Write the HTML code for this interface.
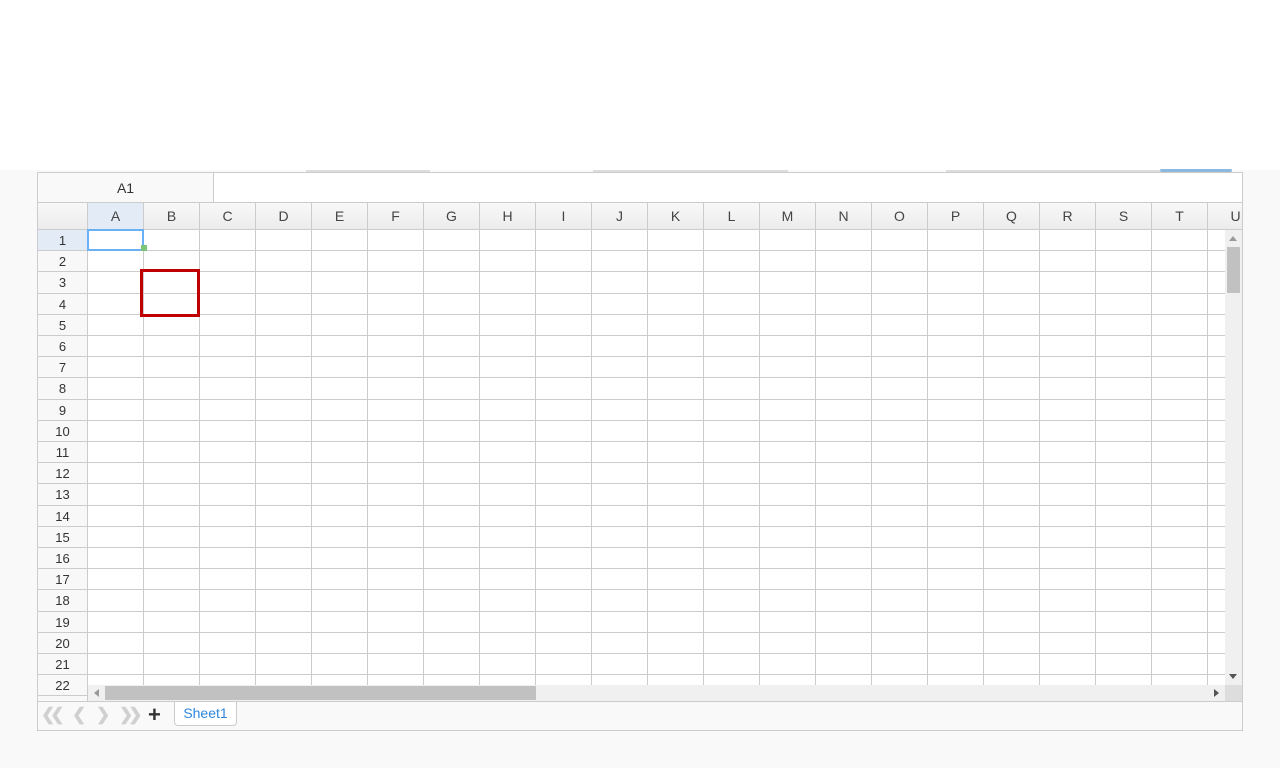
<!DOCTYPE html>
<html><head><meta charset="utf-8"><style>
body{margin:0;width:1280px;height:768px;background:#fff;font-family:"Liberation Sans",Arial,sans-serif;overflow:hidden;position:relative}
.abs{position:absolute;box-sizing:border-box}
.bg{left:0;top:170px;width:1280px;height:598px;background:#f9f9f9}
.wrap{left:37px;top:172px;width:1206px;height:559px;border:1px solid #ccc;background:#fff}
.hl{background:#ddd;height:2px}
.ch{font-size:14px;color:#444;text-align:center;line-height:26px;top:30px;height:27px;border-right:1px solid #ccc;border-bottom:1px solid #ccc;background:linear-gradient(#f8f8f8,#ececec)}
.rh{font-size:13px;color:#333;text-align:center;left:0;width:50px;border-right:1px solid #ccc;border-bottom:1px solid #ccc;background:#f8f8f8}
.vl{width:1px;background:#ccc}
.hline{height:1px;background:#ccc}
</style></head><body>
<div class="abs bg"></div>
<div class="abs hl" style="left:306px;top:170px;width:124px"></div>
<div class="abs hl" style="left:593px;top:170px;width:195px"></div>
<div class="abs hl" style="left:946px;top:170px;width:214px"></div>
<div class="abs" style="left:1160px;top:169px;width:72px;height:3px;background:#8db8e0;border-radius:2px"></div>
<div class="abs wrap" id="wrap">
  <div class="abs" style="left:0;top:0;width:176px;height:30px;border-right:1px solid #ccc;border-bottom:1px solid #ccc;background:#f9f9f9;font-size:14px;color:#333;text-align:center;line-height:30px">A1</div>
  <div class="abs" style="left:176px;top:0;width:1028px;height:30px;border-bottom:1px solid #ccc"></div>
  <div id="grid" class="abs" style="left:0;top:0;width:1204px;height:528px;overflow:hidden"></div>
  <div class="abs" style="left:0;top:30px;width:50px;height:27px;border-right:1px solid #ccc;border-bottom:1px solid #ccc;background:linear-gradient(#f8f8f8,#ececec)"></div>
  <div class="abs" style="left:1187px;top:57px;width:17px;height:455px;background:#f0f0f0">
    <div class="abs" style="left:4px;top:6px;width:0;height:0;border-left:4px solid transparent;border-right:4px solid transparent;border-bottom:5px solid #999"></div>
    <div class="abs" style="left:2px;top:17px;width:13px;height:46px;background:#c1c1c1"></div>
    <div class="abs" style="left:4px;top:444px;width:0;height:0;border-left:4px solid transparent;border-right:4px solid transparent;border-top:5px solid #555"></div>
  </div>
  <div class="abs" style="left:50px;top:512px;width:1137px;height:16px;background:#f0f0f0">
    <div class="abs" style="left:6px;top:4px;width:0;height:0;border-top:4px solid transparent;border-bottom:4px solid transparent;border-right:5px solid #999"></div>
    <div class="abs" style="left:17px;top:1px;width:431px;height:14px;background:#c1c1c1"></div>
    <div class="abs" style="left:1126px;top:4px;width:0;height:0;border-top:4px solid transparent;border-bottom:4px solid transparent;border-left:5px solid #555"></div>
  </div>
  <div class="abs" style="left:1187px;top:512px;width:17px;height:16px;background:#ddd"></div>
  <div class="abs" style="left:0;top:528px;width:1204px;height:29px;background:#f9f9f9;border-top:1px solid #ccc">
    <span class="abs" style="left:3px;top:3px;font-size:17px;color:#d0d0d0;font-weight:bold;letter-spacing:-5px">❮❮</span>
    <span class="abs" style="left:34px;top:3px;font-size:17px;color:#d0d0d0;font-weight:bold">❮</span>
    <span class="abs" style="left:58px;top:3px;font-size:17px;color:#d0d0d0;font-weight:bold">❯</span>
    <span class="abs" style="left:81px;top:3px;font-size:17px;color:#d0d0d0;font-weight:bold;letter-spacing:-5px">❯❯</span>
    <span class="abs" style="left:110px;top:0px;font-size:22px;color:#333;font-weight:bold">+</span>
    <div class="abs" style="left:136px;top:0;width:63px;height:24px;background:#fff;border:1px solid #ccc;border-top:none;border-radius:0 0 4px 4px;font-size:14px;color:#2e86de;text-align:center;line-height:22px">Sheet1</div>
  </div>
</div>
<script>
const cols="ABCDEFGHIJKLMNOPQRSTU".split("");
const nRows=23;
const g=document.getElementById('grid');
const RH=21.2,TOP=57,CW=56,LEFT=50;
for(let i=0;i<nRows;i++){
  const y=TOP+i*RH;
  const l=document.createElement('div');l.className='abs hline';
  
  
  l.style.cssText=`left:50px;top:${Math.round(y+RH-1)}px;width:1154px`;g.appendChild(l);
  const r=document.createElement('div');r.className='abs rh';
  
  
  r.style.cssText=`top:${Math.round(y)}px;height:${Math.round(y+RH)-Math.round(y)}px;line-height:${Math.round(RH)}px;${i==0?'background:#e3ebf6':''}`;
  r.textContent=i<22?i+1:'';g.appendChild(r);
}
cols.forEach((c,j)=>{
  const x=LEFT+j*CW;
  const h=document.createElement('div');h.className='abs ch';
  
  
  h.style.cssText=`left:${x}px;width:${CW}px;${j==0?'background:#e3ebf6':''}`;
  h.textContent=c;g.appendChild(h);
  const v=document.createElement('div');v.className='abs vl';
  
  
  v.style.cssText=`left:${x+CW-1}px;top:57px;height:455px`;g.appendChild(v);
});
</script>
<div class="abs" style="left:87px;top:229px;width:57px;height:22px;border:2px solid #6ab0f5"></div>
<div class="abs" style="left:141px;top:245px;width:6px;height:6px;background:#7cc576"></div>
<div class="abs" style="left:140px;top:269px;width:60px;height:48px;border:3px solid #c00000"></div>
</body></html>
